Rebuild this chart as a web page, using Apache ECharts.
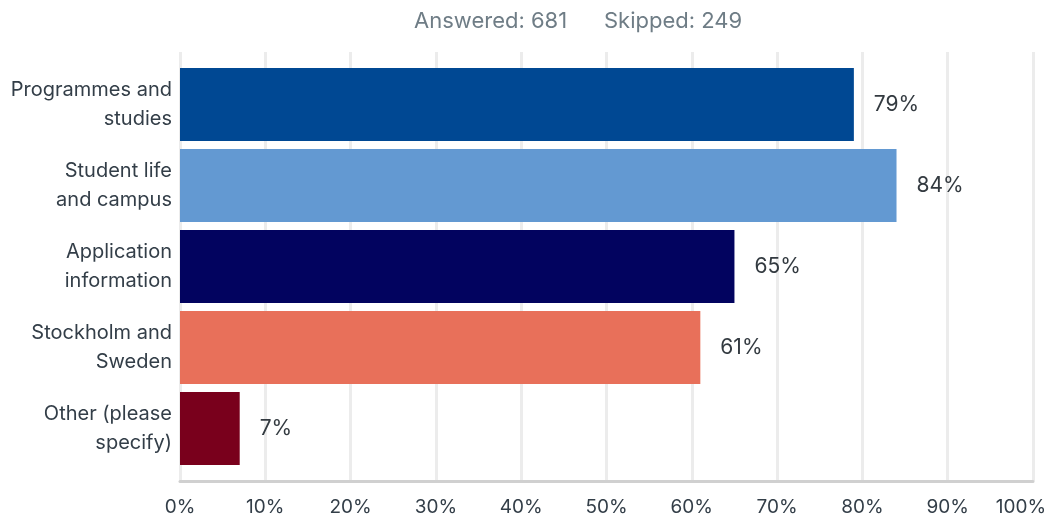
<!DOCTYPE html>
<html>
<head>
<meta charset="utf-8">
<script src="https://cdn.jsdelivr.net/npm/echarts@6/dist/echarts.min.js"></script>
<style>
  html, body { margin: 0; padding: 0; background: #fff; }
  #chart { width: 1048px; height: 519px; }
</style>
</head>
<body>
<div id="chart"></div>
<script>
// Survey question: topics of interest (share of respondents)
const categories = [
  'Programmes and\nstudies',
  'Student life\nand campus',
  'Application\ninformation',
  'Stockholm and\nSweden',
  'Other (please\nspecify)'
];
const percentages = [79, 84, 65, 61, 7];
const barColors = ['#004893', '#6399d2', '#02035f', '#e8705a', '#79001c'];
const answered = 681;
const skipped = 249;

const FONT = 'Inter, "Open Sans", sans-serif';
const TEXT = '#333e48';

const chart = echarts.init(document.getElementById('chart'), null, { renderer: 'canvas' });

chart.setOption({
  animation: false,
  graphic: [
    { type: 'text', left: 414, top: 10,
      style: { text: 'Answered: ' + answered, fontSize: 22, fontFamily: FONT, fill: '#6f7d86' } },
    { type: 'text', left: 604, top: 10,
      style: { text: 'Skipped: ' + skipped, fontSize: 22, fontFamily: FONT, fill: '#6f7d86' } }
  ],
  grid: [
    // background grid: gridlines + value axis
    { left: 180, right: 15, top: 52, bottom: 38, outerBoundsMode: 'none' },
    // bar grid
    { left: 180, right: 15, top: 64, height: 405, outerBoundsMode: 'none' }
  ],
  xAxis: [
    {
      gridIndex: 0, type: 'value', min: 0, max: 100, interval: 10,
      axisLine: { show: true, lineStyle: { color: '#d0d0d0', width: 3 } },
      axisTick: { show: false },
      splitLine: { show: true, lineStyle: { color: '#ececec', width: 3 } },
      axisLabel: {
        // keep the last label inside the canvas
        formatter: v => (v === 100 ? '{last|' + v + '%}' : v + '%'),
        rich: { last: { padding: [0, 24, 0, 0], fontSize: 19, fontFamily: FONT, color: TEXT } },
        color: TEXT, fontSize: 19, fontFamily: FONT, margin: 17
      }
    },
    {
      gridIndex: 1, type: 'value', min: 0, max: 100, show: false
    }
  ],
  yAxis: [
    { gridIndex: 0, type: 'category', data: categories, inverse: true, show: false },
    {
      gridIndex: 1, type: 'category', data: categories, inverse: true,
      axisLine: { show: false }, axisTick: { show: false },
      axisLabel: {
        color: TEXT, fontSize: 20, fontFamily: FONT, lineHeight: 29,
        align: 'right', verticalAlign: 'middle', margin: 8,
        padding: [6, 0, 0, 0]
      }
    }
  ],
  series: [{
    type: 'bar',
    xAxisIndex: 1, yAxisIndex: 1,
    barCategoryGap: '10%',
    data: percentages.map((v, i) => ({ value: v, itemStyle: { color: barColors[i] } })),
    label: {
      show: true, position: 'right', distance: 20,
      formatter: '{c}%', color: '#333a40', fontSize: 21, fontFamily: FONT
    }
  }]
});
</script>
</body>
</html>
